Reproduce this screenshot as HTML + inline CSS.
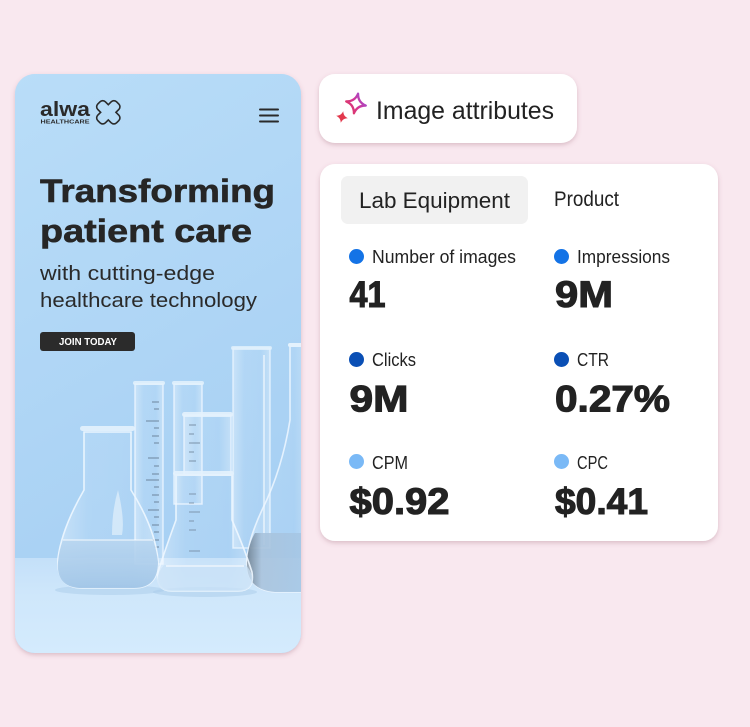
<!DOCTYPE html>
<html><head><meta charset="utf-8">
<style>
html,body{margin:0;padding:0;background:#f9e8ef;}
svg{display:block;}
text{font-family:"Liberation Sans",sans-serif;}
</style></head>
<body>
<svg width="750" height="727" viewBox="0 0 750 727" xmlns="http://www.w3.org/2000/svg">
<defs>
  <filter id="sh" x="-10%" y="-10%" width="120%" height="125%">
    <feDropShadow dx="0" dy="2" stdDeviation="2.5" flood-color="#8a4a60" flood-opacity="0.28"/>
  </filter>
  <linearGradient id="wall" x1="0" y1="0" x2="0.3" y2="1">
    <stop offset="0" stop-color="#b9ddf8"/>
    <stop offset="1" stop-color="#a6cff3"/>
  </linearGradient>
  <linearGradient id="table" x1="0" y1="0" x2="0" y2="1">
    <stop offset="0" stop-color="#c4e0f9"/>
    <stop offset="0.4" stop-color="#cfe7fb"/>
    <stop offset="1" stop-color="#d4ebfd"/>
  </linearGradient>
  <linearGradient id="spark" x1="0" y1="1" x2="1" y2="0">
    <stop offset="0" stop-color="#e2394d"/>
    <stop offset="0.5" stop-color="#d43596"/>
    <stop offset="1" stop-color="#8b56e6"/>
  </linearGradient>
  <linearGradient id="glass" x1="0" y1="0" x2="1" y2="0">
    <stop offset="0" stop-color="#ffffff" stop-opacity="0.35"/>
    <stop offset="0.3" stop-color="#ffffff" stop-opacity="0.08"/>
    <stop offset="0.75" stop-color="#ffffff" stop-opacity="0.05"/>
    <stop offset="1" stop-color="#ffffff" stop-opacity="0.3"/>
  </linearGradient>
  <linearGradient id="liq" x1="0" y1="0" x2="0" y2="1">
    <stop offset="0" stop-color="#b9d6f0"/>
    <stop offset="1" stop-color="#9fc4e6"/>
  </linearGradient>
  <linearGradient id="liq2" x1="0" y1="0" x2="1" y2="0">
    <stop offset="0" stop-color="#6d7f90"/>
    <stop offset="0.25" stop-color="#a9c3dc"/>
    <stop offset="1" stop-color="#a5c7e6"/>
  </linearGradient>
  <clipPath id="phone"><rect x="15" y="74" width="286" height="579" rx="20"/></clipPath>
</defs>

<!-- Phone card -->
<g filter="url(#sh)">
  <rect x="15" y="74" width="286" height="579" rx="20" fill="#b6dbf7"/>
</g>
<g clip-path="url(#phone)">
  <rect x="15" y="74" width="286" height="579" fill="url(#wall)"/>
  <rect x="15" y="558" width="286" height="95" fill="url(#table)"/>
  <ellipse cx="110" cy="590" rx="55" ry="5" fill="#a9cbe9" opacity="0.5"/>
  <ellipse cx="205" cy="592" rx="52" ry="5" fill="#a9cbe9" opacity="0.5"/>

  <!-- tall cylinder -->
  <rect x="233" y="348" width="37" height="200" fill="url(#glass)" stroke="#eaf5ff" stroke-opacity="0.8" stroke-width="1.5"/>
  <rect x="231" y="346" width="41" height="4" rx="2" fill="#e2f1fd" opacity="0.8"/>
  <line x1="264" y1="355" x2="264" y2="545" stroke="#ffffff" stroke-opacity="0.5" stroke-width="2"/>

  <!-- cylinder 1 -->
  <rect x="135" y="384" width="28" height="180" fill="url(#glass)" stroke="#eaf5ff" stroke-opacity="0.85" stroke-width="1.5"/>
  <rect x="133" y="381" width="32" height="4" rx="2" fill="#e4f2fd" opacity="0.85"/>
  <g stroke="#5d7288" stroke-width="1" opacity="0.8">
    <line x1="152" y1="402" x2="159" y2="402"/><line x1="154" y1="409" x2="159" y2="409"/>
    <line x1="146" y1="421" x2="159" y2="421"/><line x1="154" y1="428" x2="159" y2="428"/>
    <line x1="152" y1="436" x2="159" y2="436"/><line x1="154" y1="443" x2="159" y2="443"/>
    <line x1="148" y1="458" x2="159" y2="458"/><line x1="154" y1="466" x2="159" y2="466"/>
    <line x1="152" y1="474" x2="159" y2="474"/><line x1="146" y1="480" x2="159" y2="480"/>
    <line x1="154" y1="487" x2="159" y2="487"/><line x1="152" y1="495" x2="159" y2="495"/>
    <line x1="154" y1="502" x2="159" y2="502"/><line x1="148" y1="510" x2="159" y2="510"/>
    <line x1="154" y1="517" x2="159" y2="517"/><line x1="152" y1="525" x2="159" y2="525"/>
    <line x1="154" y1="532" x2="159" y2="532"/><line x1="152" y1="540" x2="159" y2="540"/>
    <line x1="154" y1="547" x2="159" y2="547"/>
  </g>
  <!-- cylinder 2 -->
  <rect x="174" y="384" width="28" height="120" fill="url(#glass)" stroke="#eaf5ff" stroke-opacity="0.85" stroke-width="1.5"/>
  <rect x="172" y="381" width="32" height="4" rx="2" fill="#e4f2fd" opacity="0.85"/>

  <!-- right flask -->
  <path d="M290,346 L290,420 Q282,470 262,510 Q248,540 247,560 Q246,590 275,592 L310,592 L310,346 Z" fill="url(#glass)" stroke="#eef7ff" stroke-opacity="0.85" stroke-width="1.6"/>
  <path d="M255,533 L305,533 L305,592 L275,592 Q246,590 247,562 Q248,545 255,533 Z" fill="url(#liq2)" opacity="0.9"/>
  <rect x="288" y="343" width="16" height="4" rx="2" fill="#e4f2fd"/>

  <!-- middle flask / beakers -->
  <rect x="184" y="415" width="47" height="60" fill="url(#glass)" stroke="#eaf5ff" stroke-opacity="0.85" stroke-width="1.5"/>
  <rect x="182" y="412" width="51" height="5" rx="2.5" fill="#e4f2fd" opacity="0.9"/>
  <g stroke="#5d7288" stroke-width="1" opacity="0.7">
    <line x1="189" y1="425" x2="196" y2="425"/><line x1="189" y1="434" x2="194" y2="434"/>
    <line x1="189" y1="443" x2="200" y2="443"/><line x1="189" y1="452" x2="194" y2="452"/>
    <line x1="189" y1="461" x2="196" y2="461"/><line x1="189" y1="494" x2="196" y2="494"/>
    <line x1="189" y1="503" x2="194" y2="503"/><line x1="189" y1="512" x2="200" y2="512"/>
    <line x1="189" y1="521" x2="194" y2="521"/><line x1="189" y1="530" x2="196" y2="530"/>
    <line x1="189" y1="551" x2="200" y2="551"/>
  </g>
  <path d="M176,475 L176,520 Q165,550 158,572 Q155,591 172,591 L238,591 Q255,591 252,572 Q245,550 232,520 L232,475 Z" fill="url(#glass)" stroke="#eef7ff" stroke-opacity="0.9" stroke-width="1.6"/>
  <rect x="173" y="471" width="61" height="5" rx="2.5" fill="#e4f2fd" opacity="0.9"/>
  <path d="M164,565 L246,565 Q254,575 252,582 Q250,591 238,591 L172,591 Q157,591 157,580 Q158,572 164,565 Z" fill="#c9e1f6" opacity="0.7"/>
  <line x1="166" y1="566" x2="244" y2="566" stroke="#ffffff" stroke-opacity="0.8" stroke-width="1.2"/>

  <!-- left flask -->
  <path d="M84,432 L84,490 Q62,528 58,558 Q56,588 82,588 L134,588 Q159,588 158,560 Q155,528 131,490 L131,432 Z" fill="url(#glass)" stroke="#eef7ff" stroke-opacity="0.9" stroke-width="1.6"/>
  <path d="M63,540 L153,540 Q157,552 158,562 Q158,588 134,588 L82,588 Q56,588 58,562 Q59,550 63,540 Z" fill="url(#liq)" opacity="0.9"/>
  <line x1="63" y1="540" x2="153" y2="540" stroke="#ffffff" stroke-opacity="0.7" stroke-width="1.2"/>
  <rect x="80" y="426" width="55" height="5" rx="2.5" fill="#e4f2fd" opacity="0.9"/>
  <path d="M118,490 Q125,520 122,535 L112,535 Q112,510 118,490 Z" fill="#ffffff" opacity="0.45"/>

  <!-- Logo -->
  <text x="40" y="116" font-size="20" font-weight="bold" fill="#2a2a2a" textLength="50" lengthAdjust="spacingAndGlyphs">alwa</text>
  <text x="40.5" y="123.5" font-size="5.5" font-weight="bold" fill="#2a2a2a" textLength="49" lengthAdjust="spacingAndGlyphs">HEALTHCARE</text>
  <g transform="translate(108.3,112.3)">
    <g stroke="#2a2a2a" stroke-width="3.2" fill="#2a2a2a" stroke-linejoin="round">
      <rect x="-12.5" y="-4.6" width="25" height="9.2" rx="3" transform="rotate(45)"/>
      <rect x="-12.5" y="-4.6" width="25" height="9.2" rx="3" transform="rotate(-45)"/>
    </g>
    <g fill="#b6dbf7">
      <rect x="-12.5" y="-4.6" width="25" height="9.2" rx="3" transform="rotate(45)"/>
      <rect x="-12.5" y="-4.6" width="25" height="9.2" rx="3" transform="rotate(-45)"/>
    </g>
  </g>
  <!-- hamburger -->
  <g stroke="#2a2a2a" stroke-width="2" stroke-linecap="round">
    <line x1="260" y1="109.5" x2="278" y2="109.5"/>
    <line x1="260" y1="115.5" x2="278" y2="115.5"/>
    <line x1="260" y1="121.5" x2="278" y2="121.5"/>
  </g>

  <!-- Headline -->
  <g font-size="32" font-weight="bold" fill="#262626" stroke="#262626" stroke-width="0.6">
    <text x="40" y="202" textLength="235" lengthAdjust="spacingAndGlyphs">Transforming</text>
    <text x="40" y="242" textLength="212" lengthAdjust="spacingAndGlyphs">patient care</text>
  </g>
  <text x="40" y="280" font-size="20" fill="#2a2a2a" textLength="175" lengthAdjust="spacingAndGlyphs">with cutting-edge</text>
  <text x="40" y="307" font-size="20" fill="#2a2a2a" textLength="217" lengthAdjust="spacingAndGlyphs">healthcare technology</text>

  <!-- Button -->
  <rect x="40" y="332" width="95" height="19" rx="3" fill="#2b2b2b"/>
  <text x="59" y="345" font-size="10" font-weight="bold" fill="#ffffff" textLength="58" lengthAdjust="spacingAndGlyphs">JOIN TODAY</text>
</g>

<!-- Image attributes pill -->
<g filter="url(#sh)">
  <rect x="319" y="74" width="258" height="69" rx="16" fill="#ffffff"/>
</g>
<g transform="translate(356,103.5) rotate(12)">
  <path d="M0,-10 Q1.6,-1.6 10,0 Q1.6,1.6 0,10 Q-1.6,1.6 -10,0 Q-1.6,-1.6 0,-10 Z" fill="none" stroke="url(#spark)" stroke-width="2.3" stroke-linejoin="round"/>
</g>
<g transform="translate(342,117) rotate(12) scale(0.45)">
  <path d="M0,-10 Q2.5,-2.5 10,0 Q2.5,2.5 0,10 Q-2.5,2.5 -10,0 Q-2.5,-2.5 0,-10 Z" fill="#e2394d" stroke="#e2394d" stroke-width="2"/>
</g>
<text x="376" y="119" font-size="25" fill="#222222" textLength="178" lengthAdjust="spacingAndGlyphs">Image attributes</text>

<!-- Stats card -->
<g filter="url(#sh)">
  <rect x="320" y="164" width="398" height="377" rx="15" fill="#ffffff"/>
</g>
<rect x="341" y="176" width="187" height="48" rx="7" fill="#f1f1f1"/>
<text x="359" y="208" font-size="22" fill="#222222" textLength="151" lengthAdjust="spacingAndGlyphs">Lab Equipment</text>
<text x="554" y="206" font-size="21" fill="#222222" textLength="65" lengthAdjust="spacingAndGlyphs">Product</text>

<!-- Row 1 -->
<circle cx="356.5" cy="256.5" r="7.5" fill="#1473e6"/>
<text x="372" y="263" font-size="18" fill="#222222" textLength="144" lengthAdjust="spacingAndGlyphs">Number of images</text>
<circle cx="561.5" cy="256.5" r="7.5" fill="#1473e6"/>
<text x="577" y="263" font-size="18" fill="#222222" textLength="93" lengthAdjust="spacingAndGlyphs">Impressions</text>
<g font-weight="bold" fill="#222222" stroke="#222222" stroke-width="1.1" font-size="37">
  <text x="349.5" y="307" textLength="36" lengthAdjust="spacingAndGlyphs">41</text>
  <text x="555" y="307" textLength="58" lengthAdjust="spacingAndGlyphs">9M</text>
</g>

<!-- Row 2 -->
<circle cx="356.5" cy="359.5" r="7.5" fill="#0a4fb5"/>
<text x="372" y="366" font-size="18" fill="#222222" textLength="44" lengthAdjust="spacingAndGlyphs">Clicks</text>
<circle cx="561.5" cy="359.5" r="7.5" fill="#0a4fb5"/>
<text x="577" y="366" font-size="18" fill="#222222" textLength="32" lengthAdjust="spacingAndGlyphs">CTR</text>
<g font-weight="bold" fill="#222222" stroke="#222222" stroke-width="1.1" font-size="37">
  <text x="349.5" y="411.5" textLength="59" lengthAdjust="spacingAndGlyphs">9M</text>
  <text x="555" y="411.5" textLength="115" lengthAdjust="spacingAndGlyphs">0.27%</text>
</g>

<!-- Row 3 -->
<circle cx="356.5" cy="461.5" r="7.5" fill="#7ab9f6"/>
<text x="372" y="469" font-size="18" fill="#222222" textLength="36" lengthAdjust="spacingAndGlyphs">CPM</text>
<circle cx="561.5" cy="461.5" r="7.5" fill="#7ab9f6"/>
<text x="577" y="469" font-size="18" fill="#222222" textLength="31" lengthAdjust="spacingAndGlyphs">CPC</text>
<g font-weight="bold" fill="#222222" stroke="#222222" stroke-width="1.1" font-size="37">
  <text x="349.5" y="514" textLength="100" lengthAdjust="spacingAndGlyphs">$0.92</text>
  <text x="555" y="514" textLength="93" lengthAdjust="spacingAndGlyphs">$0.41</text>
</g>
</svg>
</body></html>
